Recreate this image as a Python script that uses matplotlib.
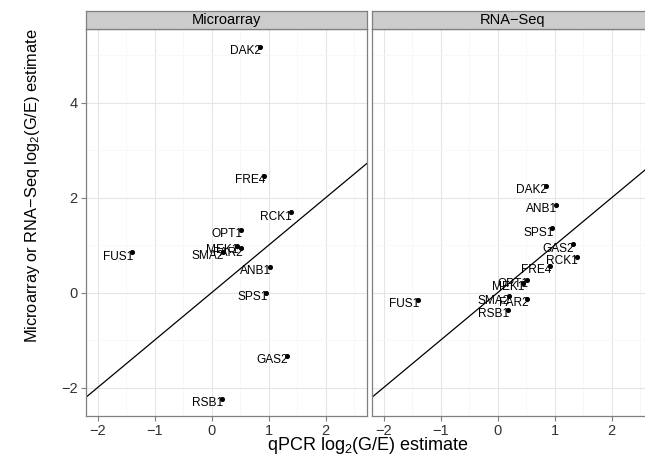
import matplotlib
matplotlib.use("Agg")
import matplotlib.pyplot as plt

plt.rcParams['font.family'] = ['Liberation Sans', 'DejaVu Sans']
plt.rcParams['mathtext.fontset'] = 'custom'
plt.rcParams['mathtext.rm'] = 'Liberation Sans'
plt.rcParams['mathtext.it'] = 'Liberation Sans:italic'

genes = ['DAK2', 'FRE4', 'RCK1', 'OPT1', 'MEK1', 'FAR2', 'SMA2', 'FUS1', 'ANB1', 'SPS1', 'GAS2', 'RSB1']
qpcr = [0.85, 0.92, 1.39, 0.52, 0.44, 0.52, 0.20, -1.40, 1.03, 0.96, 1.32, 0.18]
microarray = [5.18, 2.46, 1.69, 1.33, 0.99, 0.94, 0.86, 0.85, 0.55, 0.0, -1.33, -2.24]
rnaseq = [2.25, 0.57, 0.76, 0.27, 0.21, -0.13, -0.07, -0.15, 1.85, 1.36, 1.02, -0.36]
panels = ['Microarray', 'RNA\u2212Seq']
xticks = [-2, -1, 0, 1, 2]
yticks = [-2, 0, 2, 4]

W, H = 645, 459
fig = plt.figure(figsize=(W / 100, H / 100), dpi=100)

def fx(px):
    return px / W

def fy(py):
    return 1 - py / H

panel_left = [86, 372]
panel_w = 280.7
top, bottom = 29.3, 416
strip_top = 11

xlim = (-2.205, 2.72)
ylim = (-2.6, 5.55)

for i, (name, yvals) in enumerate(zip(panels, [microarray, rnaseq])):
    ax = fig.add_axes([fx(panel_left[i]), fy(bottom), fx(panel_w), (bottom - top) / H])
    ax.set_xlim(*xlim)
    ax.set_ylim(*ylim)
    ax.set_xticks(xticks)
    ax.set_xticks([-1.5, -0.5, 0.5, 1.5, 2.5], minor=True)
    ax.set_yticks(yticks)
    ax.set_yticks([-1, 1, 3, 5], minor=True)
    ax.grid(True, which='major', color='#e5e5e5', lw=0.8)
    ax.grid(True, which='minor', color='#f7f7f7', lw=0.6)
    ax.set_axisbelow(True)
    for s in ax.spines.values():
        s.set_color('#7f7f7f')
        s.set_linewidth(0.9)
    ax.tick_params(which='major', length=3.5, width=0.8, color='#7f7f7f',
                   labelsize=10.5, labelcolor='#333333', pad=2.5)
    ax.tick_params(which='minor', length=0)
    if i == 1:
        ax.set_yticklabels([])
        ax.tick_params(axis='y', length=0)
    ax.axline((0, 0), slope=1, color='black', lw=0.9)
    ax.scatter(qpcr, yvals, s=7, color='black', zorder=3)
    for g, x, y in zip(genes, qpcr, yvals):
        ax.text(x + 0.02, y + 0.03, g, ha='right', va='top', fontsize=8.6, color='black', zorder=4)
    # strip
    sax = fig.add_axes([fx(panel_left[i]), fy(top), fx(panel_w), (top - strip_top) / H])
    sax.set_facecolor('#cccccc')
    sax.set_xticks([])
    sax.set_yticks([])
    for s in sax.spines.values():
        s.set_color('#7f7f7f')
        s.set_linewidth(0.9)
    sax.text(0.5, 0.5, name, ha='center', va='center', fontsize=10.5,
             transform=sax.transAxes)

fig.text(fx(368), fy(446), r'qPCR log$_\mathrm{2}$(G/E) estimate', ha='center', va='center',
         fontsize=13)
fig.text(fx(33), fy(186), r'Microarray or RNA$-$Seq log$_\mathrm{2}$(G/E) estimate',
         ha='center', va='center', rotation=90, fontsize=11.8)

fig.savefig('out.png', dpi=100)
